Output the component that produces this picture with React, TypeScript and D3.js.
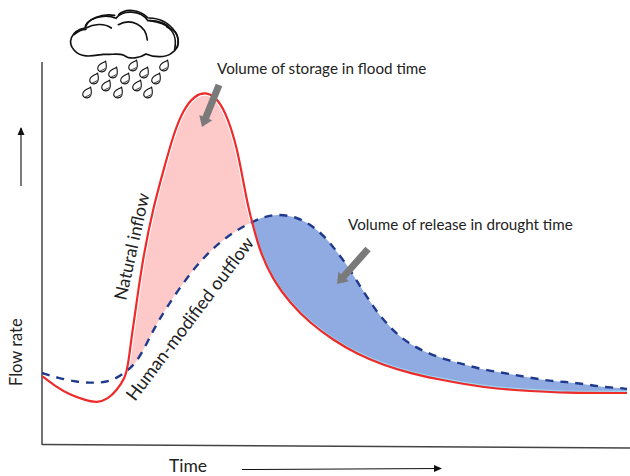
import * as d3 from 'd3';

// Values. Time and flow are in arbitrary units, no ticks on the original.
const inflowTime = [0, 13, 28, 43, 55, 66, 75, 83, 86, 90, 95, 101, 111, 123, 131, 141, 153, 165, 176, 186, 195, 201, 206, 210, 218, 231, 248, 268, 291, 315, 341, 371, 395, 421, 455, 488, 521, 585];
const inflowFlow = [68, 58, 49, 44, 41, 45, 54, 66, 78, 110, 144, 186, 236, 279, 308, 334, 349, 352, 345, 326, 296, 264, 238, 222, 192, 164, 141, 121, 104, 90, 79, 70, 65, 60, 55, 53, 51, 51];
const outflowTime = [0, 16, 35, 51, 68, 83, 95, 105, 113, 123, 143, 161, 178, 195, 210, 221, 236, 255, 271, 285, 295, 305, 313, 325, 335, 346, 358, 373, 388, 405, 421, 438, 456, 473, 490, 508, 525, 542, 560, 578, 585];
const outflowFlow = [71, 66, 62, 61, 62, 71, 82, 101, 117, 134, 164, 186, 202, 214, 222, 227, 230, 227, 218, 205, 192, 179, 166, 147, 132, 119, 107, 97, 90, 84, 80, 75, 72, 69, 66, 63, 62, 60, 57, 56, 55];
const crossStart = 83;
const crossMid = 210;

const dropX = [102, 113, 133, 144, 164, 94, 125, 156, 106, 137, 87, 118, 148];
const dropY = [67, 73, 66, 73, 66, 79, 79, 79, 86, 86, 93, 93, 93];

const width = 630;
const height = 476;

type Pt = [number, number];

const x = d3.scaleLinear().domain([0, 585]).range([42, 627]);
const y = d3.scaleLinear().domain([0, 382]).range([444, 62]);

const inflow: Pt[] = inflowTime.map((t, i) => [t, inflowFlow[i]]);
const outflow: Pt[] = outflowTime.map((t, i) => [t, outflowFlow[i]]);

const line = d3
  .line<Pt>()
  .x((d) => x(d[0]))
  .y((d) => y(d[1]))
  .curve(d3.curveBasis);

function between(points: Pt[], from: number, to: number) {
  return points.filter((d) => d[0] >= from && d[0] <= to);
}

function regionPath(a: Pt[], b: Pt[]) {
  const top = line(a) ?? '';
  const bottom = line([...b].reverse()) ?? '';
  return `${top}L${bottom.slice(1)}Z`;
}

const storagePath = regionPath(between(inflow, crossStart, crossMid), between(outflow, crossStart, crossMid));
const releasePath = regionPath(between(outflow, crossMid, 585), between(inflow, crossMid, 585));

const textStyle = { fontFamily: 'Lato, sans-serif', fontSize: 15.2, fill: '#222' };

function Pointer({ x1, y1, x2, y2 }: { x1: number; y1: number; x2: number; y2: number }) {
  const angle = (Math.atan2(y2 - y1, x2 - x1) * 180) / Math.PI;
  const length = Math.hypot(x2 - x1, y2 - y1);
  return (
    <g transform={`translate(${x1},${y1}) rotate(${angle})`} fill="#7a7a7a">
      <rect x={0} y={-3.5} width={length - 9} height={7} />
      <path d={`M${length - 10},-7 L${length},0 L${length - 10},7 Z`} />
    </g>
  );
}

function Cloud() {
  return (
    <g transform="translate(50,0) scale(0.3333)" fill="none" stroke="#111" strokeLinecap="round">
      <path
        fill="#fff"
        strokeWidth={5}
        d="M72,150 C52,128 62,92 105,84 C108,58 160,38 198,55 C218,28 272,30 294,62 C325,60 350,72 358,84 C388,95 396,140 364,160 C345,174 310,172 288,162 C270,174 240,180 222,166 C205,158 185,165 160,163 C135,166 95,178 72,150 Z"
      />
      <path strokeWidth={5} d="M108,78 C115,58 150,40 194,46 M206,44 C226,24 268,28 292,52 M296,54 C330,54 358,70 376,96 C388,114 387,128 382,142" />
      <path strokeWidth={5} d="M108,84 C130,72 162,68 184,84 M205,74 C242,54 288,74 292,120 M72,104 C85,92 95,88 108,88 M350,80 C372,92 380,118 374,148 M300,62 C325,66 345,72 358,84" />
    </g>
  );
}

function Drop({ cx, cy }: { cx: number; cy: number }) {
  return (
    <g transform={`translate(${cx},${cy})`}>
      <path d="M3.6,-5.8 C4.4,-2.5 4.8,0.5 3.6,2.8 C2.2,5.3 -1.8,5.6 -3.6,3.4 C-5.2,1.2 -3.8,-1.6 -1.5,-3 C0.2,-4 2.2,-4.8 3.6,-5.8 Z" fill="#fff" stroke="#111" strokeWidth={1.1} />
      <path d="M3.6,0.6 C3,3.2 0.4,4.2 -2.4,3.8 C-0.6,2.9 1.8,2.6 3.6,0.6 Z" fill="#333" />
    </g>
  );
}

export default function App() {
  return (
    <svg
      width={width}
      height={height}
      viewBox={`0 0 ${width} ${height}`}
      style={{ position: 'absolute', left: 0, top: 0, background: '#fff' }}
    >
      <defs>
        <marker id="head" markerWidth={8} markerHeight={8} refX={7} refY={4} orient="auto" markerUnits="userSpaceOnUse">
          <path d="M0,0.5 L8,4 L0,7.5 Z" fill="#111" />
        </marker>
      </defs>

      <path d={storagePath} fill="#fdc9c9" />
      <path d={releasePath} fill="#8fabe2" />

      <line x1={42} y1={62} x2={42} y2={445} stroke="#444" strokeWidth={1.5} />
      <line x1={42} y1={444.5} x2={630} y2={448} stroke="#444" strokeWidth={1.5} />

      <path d={line(between(inflow, crossStart, crossMid)) ?? ''} fill="none" stroke="#fff" strokeWidth={4.4} />
      <path
        d={line(between(inflow, crossMid, 585)) ?? ''}
        transform="translate(0,-1.5)"
        fill="none"
        stroke="#9fd8ef"
        strokeWidth={1.4}
      />
      <path d={line(outflow) ?? ''} fill="none" stroke="#1f3a8c" strokeWidth={2.4} strokeDasharray="8 7" />
      <path d={line(inflow) ?? ''} fill="none" stroke="#ee2a2a" strokeWidth={2.2} />

      <line x1={21} y1={186} x2={21} y2={128} stroke="#111" strokeWidth={1.1} markerEnd="url(#head)" />
      <line x1={242} y1={469.5} x2={441} y2={468.5} stroke="#111" strokeWidth={1.1} markerEnd="url(#head)" />

      <Pointer x1={219} y1={85} x2={202} y2={127} />
      <Pointer x1={368} y1={249} x2={337} y2={284} />

      <text x={217} y={74} style={textStyle}>Volume of storage in flood time</text>
      <text x={348} y={230} style={textStyle}>Volume of release in drought time</text>
      <text transform="translate(126,301) rotate(-77.5)" style={{ ...textStyle, fontSize: 17.5 }}>Natural inflow</text>
      <text transform="translate(135,402) rotate(-53)" style={{ ...textStyle, fontSize: 18 }}>Human-modified outflow</text>
      <text transform="translate(22,386) rotate(-90)" style={{ ...textStyle, fontSize: 16.5 }}>Flow rate</text>
      <text x={169} y={472} style={{ ...textStyle, fontSize: 17.5 }}>Time</text>

      <Cloud />
      {dropX.map((cx, i) => (
        <Drop key={i} cx={cx} cy={dropY[i]} />
      ))}
    </svg>
  );
}
